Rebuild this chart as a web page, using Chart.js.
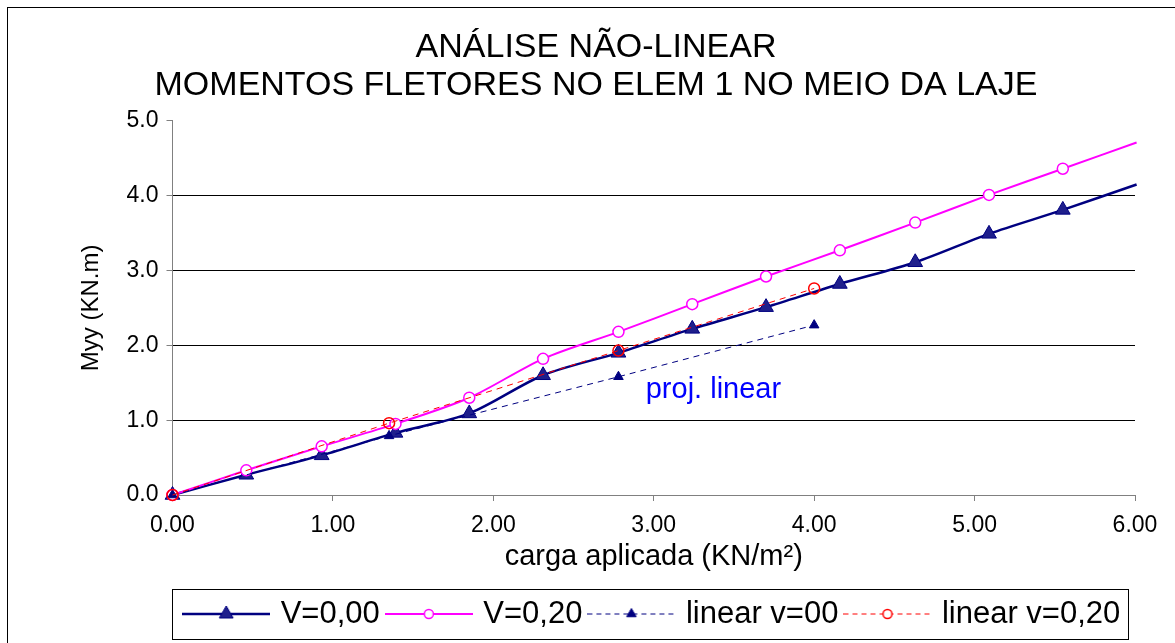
<!DOCTYPE html>
<html>
<head>
<meta charset="utf-8">
<script src="https://cdn.jsdelivr.net/npm/chart.js@4/dist/chart.umd.min.js"></script>
<style>
  html, body { margin: 0; padding: 0; background: #fff; }
  #wrap { width: 1175px; height: 643px; }
</style>
</head>
<body>
<div id="wrap"><canvas id="c" width="1175" height="643"></canvas></div>
<script>
// ---- data ----
const titleLines = ['ANÁLISE NÃO-LINEAR', 'MOMENTOS FLETORES NO ELEM 1 NO MEIO DA LAJE'];
const xAxisTitle = 'carga aplicada (KN/m²)';
const yAxisTitle = 'Myy (KN.m)';
const seriesNames = ['V=0,00', 'V=0,20', 'linear v=00', 'linear v=0,20'];
const annotationText = 'proj. linear';

const xLoad = [0, 0.46, 0.93, 1.39, 1.85, 2.31, 2.78, 3.24, 3.70, 4.16, 4.63, 5.09, 5.55, 6.01];
const myyV000 = [0, 0.27, 0.53, 0.83, 1.09, 1.60, 1.90, 2.22, 2.51, 2.82, 3.11, 3.49, 3.81, 4.15];
const myyV020 = [0, 0.33, 0.65, 0.95, 1.30, 1.82, 2.18, 2.55, 2.92, 3.27, 3.64, 4.01, 4.36, 4.71];

const xLinear = [0, 1.35, 2.78, 4.00];
const myyLinV000 = [0, 0.79, 1.58, 2.27];
const myyLinV020 = [0, 0.96, 1.93, 2.76];

const xTicks = [0, 1, 2, 3, 4, 5, 6];
const yTicks = [0, 1, 2, 3, 4, 5];

// ---- styling ----
const FONT = '"Liberation Sans", Arial, Helvetica, sans-serif';
const NAVY = '#000080';
const NAVY_FILL = '#1f1f8c';
const MAGENTA = '#FF00FF';
const RED = '#FF0000';

function pts(xs, ys) { return xs.map((x, i) => ({ x: x, y: ys[i] })); }

function makeSample(color, width, dash, marker, r, fill) {
  const c = document.createElement('canvas');
  c.width = 88; c.height = 22;
  const g = c.getContext('2d');
  g.strokeStyle = color; g.lineWidth = width; g.setLineDash(dash);
  g.beginPath(); g.moveTo(0, 11); g.lineTo(88, 11); g.stroke();
  g.setLineDash([]);
  g.lineWidth = marker === 'circle' ? 1.5 : 1;
  g.beginPath();
  if (marker === 'triangle') {
    g.moveTo(44, 11 - r);
    g.lineTo(44 + r * Math.sin(2 * Math.PI / 3), 11 + r / 2);
    g.lineTo(44 - r * Math.sin(2 * Math.PI / 3), 11 + r / 2);
    g.closePath();
    g.fillStyle = fill; g.fill(); g.strokeStyle = color; g.stroke();
  } else {
    g.arc(44, 11, r, 0, Math.PI * 2);
    g.fillStyle = '#fff'; g.fill(); g.strokeStyle = color; g.stroke();
  }
  return c;
}

const samples = [
  makeSample(NAVY, 2.5, [], 'triangle', 8, NAVY_FILL),
  makeSample(MAGENTA, 2, [], 'circle', 4.5),
  makeSample(NAVY, 1, [5, 4], 'triangle', 5.5, NAVY),
  makeSample(RED, 1, [5, 4], 'circle', 4.5)
];

const lastIdx = xLoad.length - 1;

const borderPlugin = {
  id: 'frame',
  beforeDraw(chart) {
    const ctx = chart.ctx;
    ctx.save();
    ctx.fillStyle = '#fff';
    ctx.fillRect(0, 0, chart.width, chart.height);
    ctx.strokeStyle = '#000';
    ctx.lineWidth = 1;
    ctx.strokeRect(7.5, 7.5, 1300, 800);
    ctx.restore();
  },
  afterDraw(chart) {
    const lg = chart.legend;
    if (!lg || !lg.legendHitBoxes || !lg.legendHitBoxes.length) return;
    const hb = lg.legendHitBoxes;
    const first = hb[0], last = hb[hb.length - 1];
    const left = Math.round(first.left - 15) + 0.5;
    const right = Math.round(last.left + last.width + 8) + 0.5;
    const top = Math.round(first.top - 9.5) + 0.5;
    const bottom = Math.round(first.top + first.height + 9.5) + 0.5;
    const ctx = chart.ctx;
    ctx.save();
    ctx.strokeStyle = '#000';
    ctx.lineWidth = 1;
    ctx.strokeRect(left, top, right - left, bottom - top);
    ctx.restore();
  }
};

const annotationPlugin = {
  id: 'projLabel',
  afterDatasetsDraw(chart) {
    const ctx = chart.ctx;
    const xs = chart.scales.x, ys = chart.scales.y;
    ctx.save();
    ctx.font = '29px ' + FONT;
    ctx.fillStyle = '#0000FF';
    ctx.textAlign = 'left';
    ctx.textBaseline = 'middle';
    ctx.fillText(annotationText, xs.getPixelForValue(2.95), ys.getPixelForValue(1.40));
    ctx.restore();
  }
};

new Chart(document.getElementById('c'), {
  type: 'line',
  data: {
    datasets: [
      {
        label: seriesNames[0],
        data: pts(xLoad, myyV000),
        borderColor: NAVY,
        borderWidth: 2.5,
        tension: 0.3,
        pointStyle: 'triangle',
        pointRadius: c => c.dataIndex === lastIdx ? 0 : 8.5,
        pointBackgroundColor: NAVY_FILL,
        pointBorderColor: NAVY,
        pointBorderWidth: 1,
        clip: false,
        order: 4
      },
      {
        label: seriesNames[1],
        data: pts(xLoad, myyV020),
        borderColor: MAGENTA,
        borderWidth: 2,
        tension: 0.3,
        pointStyle: 'circle',
        pointRadius: c => c.dataIndex === lastIdx ? 0 : 5.5,
        pointBackgroundColor: '#fff',
        pointBorderColor: MAGENTA,
        pointBorderWidth: 1.5,
        clip: false,
        order: 3
      },
      {
        label: seriesNames[2],
        data: pts(xLinear, myyLinV000),
        borderColor: NAVY,
        borderWidth: 1,
        borderDash: [6, 5],
        tension: 0,
        pointStyle: 'triangle',
        pointRadius: 5.5,
        pointBackgroundColor: NAVY,
        pointBorderColor: NAVY,
        pointBorderWidth: 1,
        clip: false,
        order: 2
      },
      {
        label: seriesNames[3],
        data: pts(xLinear, myyLinV020),
        borderColor: RED,
        borderWidth: 1,
        borderDash: [6, 5],
        tension: 0,
        pointStyle: 'circle',
        pointRadius: 5.5,
        pointBackgroundColor: 'rgba(255,255,255,0)',
        pointBorderColor: RED,
        pointBorderWidth: 1.5,
        clip: false,
        order: 1
      }
    ]
  },
  options: {
    responsive: false,
    animation: false,
    devicePixelRatio: 1,
    layout: { padding: { left: 57, right: 40, top: 0, bottom: 3.5 } },
    plugins: {
      tooltip: { enabled: false },
      title: {
        display: true,
        text: titleLines,
        color: '#000',
        font: { family: FONT, size: 34, weight: 'normal', lineHeight: 1.13 },
        padding: { top: 28, bottom: 16 }
      },
      legend: {
        display: true,
        position: 'bottom',
        fullSize: false,
        labels: {
          usePointStyle: true,
          pointStyleWidth: 78,
          padding: 10,
          color: '#000',
          font: { family: FONT, size: 31 },
          generateLabels: chart => chart.data.datasets.map((ds, i) => ({
            text: ds.label,
            pointStyle: samples[i],
            datasetIndex: i,
            hidden: false,
            lineWidth: 0,
            fillStyle: 'rgba(0,0,0,0)',
            strokeStyle: 'rgba(0,0,0,0)',
            fontColor: '#000'
          }))
        }
      }
    },
    scales: {
      x: {
        type: 'linear',
        min: 0, max: 6,
        afterFit: s => { s.height = 93.5; },
        afterBuildTicks: s => { s.ticks = xTicks.map(v => ({ value: v })); },
        ticks: {
          color: '#000',
          font: { family: FONT, size: 23 },
          padding: 11,
          maxRotation: 0,
          callback: v => Number(v).toFixed(2)
        },
        grid: {
          drawOnChartArea: false,
          drawTicks: true,
          tickLength: 6,
          tickColor: '#808080'
        },
        border: { display: true, color: '#808080', width: 1 },
        title: {
          display: true,
          text: xAxisTitle,
          color: '#000',
          font: { family: FONT, size: 29 },
          padding: { top: 0, bottom: 14 }
        }
      },
      y: {
        type: 'linear',
        min: 0, max: 5,
        afterFit: s => { s.width = 115.5; },
        afterBuildTicks: s => { s.ticks = yTicks.map(v => ({ value: v })); },
        ticks: {
          color: '#000',
          font: { family: FONT, size: 23 },
          padding: 8,
          callback: v => Number(v).toFixed(1)
        },
        grid: {
          color: c => (c.tick && c.tick.value > 0 && c.tick.value < 5) ? '#000' : 'rgba(0,0,0,0)',
          lineWidth: 1,
          drawTicks: true,
          tickLength: 6,
          tickColor: '#808080'
        },
        border: { display: true, color: '#808080', width: 1 },
        title: {
          display: true,
          text: yAxisTitle,
          color: '#000',
          font: { family: FONT, size: 24 },
          padding: { top: 20, bottom: 0 }
        }
      }
    }
  },
  plugins: [borderPlugin, annotationPlugin]
});
</script>
</body>
</html>
